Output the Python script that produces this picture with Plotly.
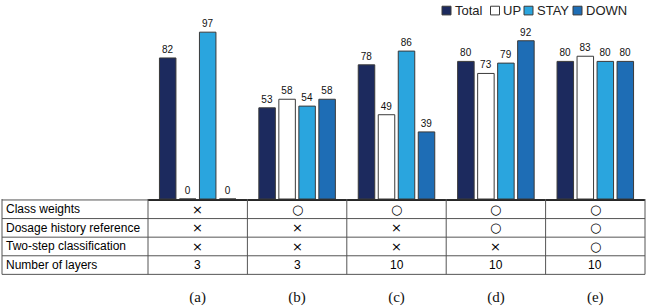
import plotly.graph_objects as go

categories = ["(a)", "(b)", "(c)", "(d)", "(e)"]
series_names = ["Total", "UP", "STAY", "DOWN"]
total = [82, 53, 78, 80, 80]
up = [0, 58, 49, 73, 83]
stay = [97, 54, 86, 79, 80]
down = [0, 58, 39, 92, 80]
series_values = [total, up, stay, down]
series_colors = ["#1c2a5e", "#ffffff", "#2aa5de", "#1e6db5"]

row_labels = ["Class weights", "Dosage history reference", "Two-step classification", "Number of layers"]
class_weights = ["×", "○", "○", "○", "○"]
dosage_history = ["×", "×", "×", "○", "○"]
two_step = ["×", "×", "×", "×", "○"]
num_layers = ["3", "3", "10", "10", "10"]
table_rows = [class_weights, dosage_history, two_step, num_layers]

W, H = 649, 306
PT, PB = 27, 205          # plot area top / bottom in pixels
PL, PR = 148, 645         # plot area left / right in pixels

def xp(px):
    return px / W

def yp(py):
    return (PB - py) / (PB - PT)

fig = go.Figure()
for name, vals, col in zip(series_names, series_values, series_colors):
    fig.add_trace(go.Bar(
        x=categories, y=vals, name=name,
        marker=dict(color=col, line=dict(color="#3a3a3a", width=1)),
        text=vals, textposition="outside", cliponaxis=False,
        textfont=dict(family="Liberation Sans", size=10, color="#111111"),
        showlegend=False, hoverinfo="skip",
    ))

shapes = []
annotations = []

# table grid
row_top = 206
row_h = 19.25
n_rows = len(row_labels)
line_style = dict(color="#555555", width=1)
for i in range(n_rows + 1):
    y = yp(row_top + i * row_h)
    shapes.append(dict(type="line", xref="paper", yref="paper",
                       x0=xp(2), x1=xp(PR), y0=y, y1=y, line=line_style))
col_w = (PR - PL) / len(categories)
vx = [2] + [PL + k * col_w for k in range(len(categories) + 1)]
for x in vx:
    shapes.append(dict(type="line", xref="paper", yref="paper",
                       x0=xp(x), x1=xp(x), y0=yp(row_top - 1), y1=yp(row_top + n_rows * row_h),
                       line=line_style))

for i, (lab, vals) in enumerate(zip(row_labels, table_rows)):
    yc = yp(row_top + (i + 0.5) * row_h)
    annotations.append(dict(text=lab, xref="paper", yref="paper", x=xp(4), y=yc,
                            xanchor="left", yanchor="middle", showarrow=False,
                            font=dict(family="Liberation Sans", size=12, color="#000000")))
    for cat, v in zip(categories, vals):
        if v in ("○", "×"):
            f = dict(family="DejaVu Sans", size=13, color="#000000")
        else:
            f = dict(family="Liberation Sans", size=12, color="#000000")
        annotations.append(dict(text=v, xref="x", yref="paper", x=cat, y=yc,
                                xanchor="center", yanchor="middle", showarrow=False, font=f))

# legend (manual, compact)
leg_sq = [442, 490.5, 524, 573]
for name, col, sx in zip(series_names, series_colors, leg_sq):
    shapes.append(dict(type="rect", xref="paper", yref="paper",
                       x0=xp(sx), x1=xp(sx + 9), y0=yp(14.5), y1=yp(5.5),
                       fillcolor=col, line=dict(color="#3a3a3a", width=1)))
    annotations.append(dict(text=name, xref="paper", yref="paper", x=xp(sx + 10.5), y=yp(10),
                            xanchor="left", yanchor="middle", showarrow=False,
                            font=dict(family="Liberation Sans", size=13, color="#222222")))

fig.update_layout(
    width=W, height=H,
    margin=dict(l=0, r=0, t=PT, b=H - PB, pad=0),
    paper_bgcolor="white", plot_bgcolor="white",
    barmode="group", bargap=0.195, bargroupgap=0.175,
    shapes=shapes, annotations=annotations,
    hovermode=False,
    xaxis=dict(domain=[xp(PL), xp(PR)], showline=True, linecolor="black", linewidth=2,
               ticks="", showgrid=False, zeroline=False,
               tickfont=dict(family="Liberation Serif", size=15, color="#111111"),
               ticklabelstandoff=83),
    yaxis=dict(range=[0, 100], visible=False, showgrid=False, zeroline=False),
)

fig.write_html("out.html", config={"displayModeBar": False},
               post_script="document.body.style.margin='0px';document.body.style.overflow='hidden';")
